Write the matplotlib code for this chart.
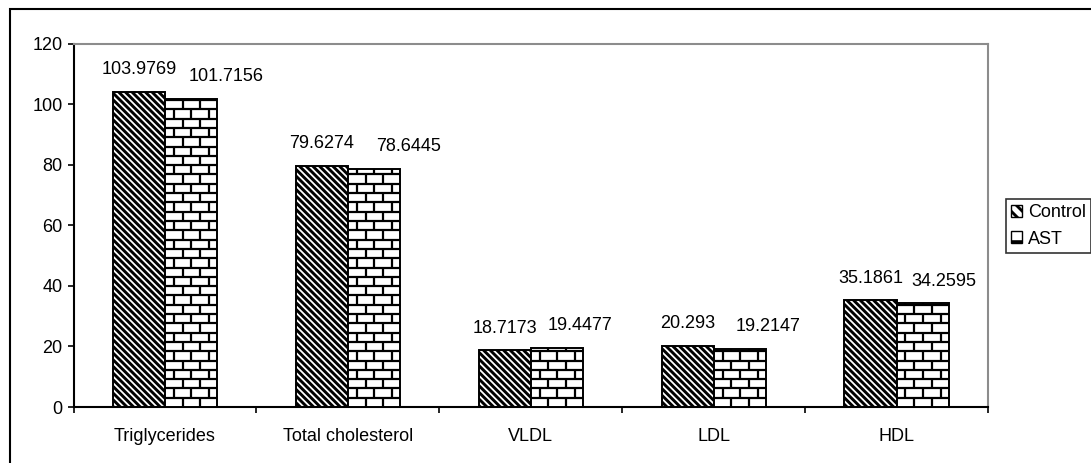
import numpy as np
import matplotlib
matplotlib.use('Agg')
import matplotlib.pyplot as plt
from matplotlib.collections import LineCollection
from matplotlib.patches import Rectangle, Patch

plt.rcParams['font.family'] = ['Liberation Sans', 'DejaVu Sans']
plt.rcParams['font.size'] = 13
plt.rcParams['hatch.linewidth'] = 2.1

# data
categories = ['Triglycerides', 'Total cholesterol', 'VLDL', 'LDL', 'HDL']
control = [103.9769, 79.6274, 18.7173, 20.293, 35.1861]
ast = [101.7156, 78.6445, 19.4477, 19.2147, 34.2595]
control_labels = ['103.9769', '79.6274', '18.7173', '20.293', '35.1861']
ast_labels = ['101.7156', '78.6445', '19.4477', '19.2147', '34.2595']
# horizontal nudges of the AST value labels (pixels), as in the original
ast_label_shift = [35, 35, 23, 28, 21]

W, H = 1091, 463
fig = plt.figure(figsize=(W / 100, H / 100), dpi=100)
ax = fig.add_axes([73.5 / W, 1 - 407 / H, (988 - 73.5) / W, (407 - 43.5) / H])

x = np.arange(len(categories))
bw = 0.285

bars_c = ax.bar(x - bw / 2, control, bw, facecolor='white', edgecolor='black',
                hatch='\\' * 5, linewidth=1.4, zorder=2)
bars_a = ax.bar(x + bw / 2, ast, bw, facecolor='white', edgecolor='black',
                linewidth=1.4, zorder=3)

ax.set_xlim(-0.5, len(categories) - 0.5)
ax.set_ylim(0, 120)

# brick pattern for the AST bars (clipped by hand to each bar)
px_x = (988 - 73.5) / len(categories)      # pixels per category unit
px_y = (407 - 43.5) / 120.0               # pixels per y unit
row_h = 9.3 / px_y
brick_w = 17.7 / px_x
for b in bars_a:
    x0, x1 = b.get_x(), b.get_x() + b.get_width()
    top = b.get_height()
    segs = []
    r = 0
    while r * row_h < top:
        y0 = r * row_h
        y1 = min(y0 + row_h, top)
        if y0 + row_h < top:
            segs.append([(x0, y0 + row_h), (x1, y0 + row_h)])
        off = 0 if r % 2 == 0 else brick_w / 2
        xv = x0 + off
        while xv < x1:
            if xv > x0:
                segs.append([(xv, y0), (xv, y1)])
            xv += brick_w
        r += 1
    lc = LineCollection(segs, colors='black', linewidths=1.6, zorder=3.5)
    ax.add_collection(lc)

# value labels
for i in range(len(categories)):
    ax.annotate(control_labels[i], (x[i] - bw / 2, control[i]), xytext=(0, 16),
                textcoords='offset points', ha='center', va='center')
    ax.annotate(ast_labels[i], (x[i] + bw / 2, ast[i]),
                xytext=(ast_label_shift[i] * 0.72, 16),
                textcoords='offset points', ha='center', va='center')

# axes styling
ax.set_yticks(np.arange(0, 121, 20))
ax.set_xticks(x)
ax.set_xticklabels(categories)
ax.set_xticks(np.arange(-0.5, len(categories), 1), minor=True)
ax.tick_params(axis='x', which='major', length=0, pad=15)
ax.tick_params(axis='x', which='minor', length=4, width=1.2, direction='out')
ax.tick_params(axis='y', length=4, width=1.2, direction='out', pad=4)
ax.spines['left'].set_linewidth(1.5)
ax.spines['bottom'].set_linewidth(1.5)
for s in ['top', 'right']:
    ax.spines[s].set_color('#8c8c8c')
    ax.spines[s].set_linewidth(1.5)

# legend
handles = [Patch(facecolor='white', edgecolor='black', hatch='\\' * 3, linewidth=1),
           Patch(facecolor='white', edgecolor='black', hatch='+', linewidth=1)]
leg = fig.legend(handles, ['Control', 'AST'], loc='center left',
                 bbox_to_anchor=(1006 / W, 1 - 226 / H), frameon=True,
                 fancybox=False, edgecolor='black', borderpad=0.3,
                 handlelength=0.6, handleheight=0.6, handletextpad=0.3,
                 labelspacing=0.5, borderaxespad=0)
leg.get_frame().set_linewidth(1.2)

# outer chart border
fig.patches.append(Rectangle((10 / W, -0.1), 1.2, 1 - 9 / H + 0.1,
                             transform=fig.transFigure, fill=False,
                             edgecolor='black', linewidth=1.5))

fig.savefig('out.png', dpi=100)
